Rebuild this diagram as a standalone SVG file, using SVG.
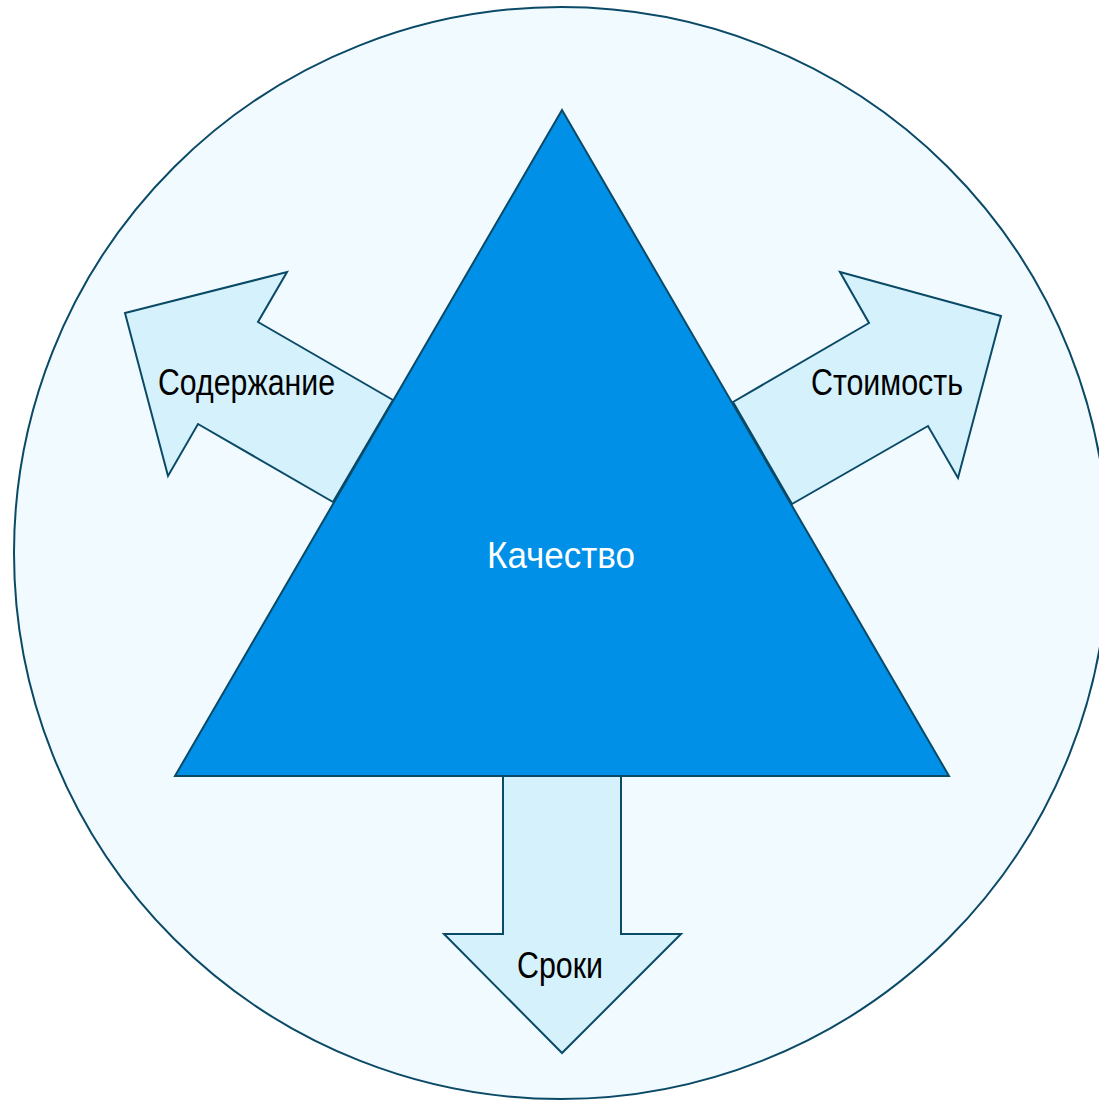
<svg xmlns="http://www.w3.org/2000/svg" width="1099" height="1101" viewBox="0 0 1099 1101">
<style>
.outline{stroke:#0b4a66;stroke-width:2;stroke-linejoin:miter}
.arrow{fill:#d4f1fc}
.lbl{font-family:"Liberation Sans",Arial,sans-serif;font-size:36px;fill:#000}
.lblw{font-family:"Liberation Sans",Arial,sans-serif;font-size:36px;fill:#fff}
</style>
<rect width="1099" height="1101" fill="#fff"/>
<g id="circle">
<ellipse class="outline" cx="561" cy="553" rx="547" ry="546" fill="#f0faff"/>
</g>
<g id="connectors">
<g id="arrow-scope">
<polygon class="outline arrow" points="125,313 287,272 258,322 393,400 333,502 198,424 168,476"/>
<text class="lbl" x="158" y="395" textLength="177" lengthAdjust="spacingAndGlyphs">Содержание</text>
</g>
<g id="arrow-cost">
<polygon class="outline arrow" points="840,272 1001,316 958,478 928,426 792,504 733,402 869,323"/>
<text class="lbl" x="811" y="395" textLength="152" lengthAdjust="spacingAndGlyphs">Стоимость</text>
</g>
<g id="arrow-time">
<polygon class="outline arrow" points="503,776 621,776 621,934 681,934 562,1053 444,934 503,934"/>
<text class="lbl" x="517" y="978" textLength="86" lengthAdjust="spacingAndGlyphs">Сроки</text>
</g>
</g>
<g id="triangle">
<polygon class="outline" points="562,110 949,776 175,776" fill="#0090e8"/>
<text class="lblw" x="487" y="568" textLength="148" lengthAdjust="spacingAndGlyphs">Качество</text>
</g>
</svg>
